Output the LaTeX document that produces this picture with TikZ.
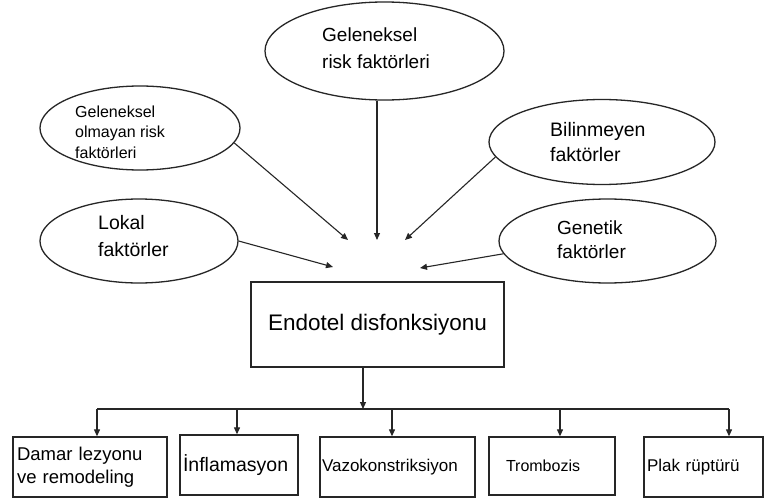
\documentclass[tikz,border=0pt]{standalone}
\usepackage{fontspec}
\setmainfont{Liberation Sans}
\usetikzlibrary{shapes.geometric,arrows.meta}
\newcommand{\fsz}[2]{\fontsize{#1}{#2}\selectfont}
\begin{document}
\begin{tikzpicture}[x=1pt,y=-1pt,
  ln/.style={line width=1.3pt,draw=black!85},
  ell/.style={ln,shape=ellipse,inner sep=0pt},
  arr/.style={line width=1.1pt,draw=black!85,-{Triangle[length=7pt,width=6pt]}},
  lbl/.style={inner sep=0pt,anchor=west,align=left},
  bx/.style={ln,shape=rectangle,align=left}]
\useasboundingbox (0,0) rectangle (764,498);
\fill[white] (0,0) rectangle (764,498);
% ellipses
\node[ell,minimum width=239pt,minimum height=98pt] (e1) at (384.5,51) {};
\node[ell,minimum width=200pt,minimum height=84pt] (e2) at (140,128) {};
\node[ell,minimum width=198pt,minimum height=84pt] (e3) at (139,241) {};
\node[ell,minimum width=226pt,minimum height=85pt] (e4) at (602,142) {};
\node[ell,minimum width=217pt,minimum height=84pt] (e5) at (607.5,241) {};
% ellipse texts
\node[lbl,font=\fsz{19}{27}] (l1) at (322,48.5) {Geleneksel\\risk faktörleri};
\node[lbl,font=\fsz{16}{20.5}] (l2) at (75,132) {Geleneksel\\olmayan risk\\faktörleri};
\node[lbl,font=\fsz{19.5}{27}] (l3) at (98,236) {Lokal\\faktörler};
\node[lbl,font=\fsz{19.5}{25}] (l4) at (550,142) {Bilinmeyen\\faktörler};
\node[lbl,font=\fsz{19}{24}] (l5) at (557,240) {Genetik\\faktörler};
% central box
\node[bx,minimum width=253pt,minimum height=85pt,align=center,font=\fsz{22.5}{27}] (c) at (377.5,324.5) {Endotel disfonksiyonu};
% arrow targets
\coordinate (t1) at (377,240);
\coordinate (t2) at (348,240);
\coordinate (t3) at (333,267);
\coordinate (t4) at (405,240);
\coordinate (t5) at (420,268);
\draw[arr] (t1 |- e1.south) -- (t1);
\draw[arr] (e2.-9) -- (t2);
\draw[arr] (e3.east) -- (t3);
\draw[arr] (e4.188) -- (t4);
\draw[arr] (e5.187) -- (t5);
% bottom boxes
\node[bx,minimum width=154pt,minimum height=60pt,text width=146pt,inner xsep=4pt,font=\fsz{18.5}{23}] (b1) at (90,467) {Damar lezyonu\\ve remodeling};
\node[bx,minimum width=118pt,minimum height=60pt,text width=112pt,inner xsep=3pt,font=\fsz{19.5}{24}] (b2) at (239,465) {İnflamasyon};
\node[bx,minimum width=155pt,minimum height=60pt,text width=151pt,inner xsep=2pt,font=\fsz{17}{20}] (b3) at (397.5,467) {Vazokonstriksiyon};
\node[bx,minimum width=126pt,minimum height=58pt,text width=92pt,inner xsep=17pt,font=\fsz{16}{20}] (b4) at (552,466) {Trombozis};
\node[bx,minimum width=119pt,minimum height=60pt,text width=113pt,inner xsep=3pt,font=\fsz{17}{20}] (b5) at (703.5,467) {Plak rüptürü};
% distribution
\coordinate (cd) at (363,0);
\coordinate (bl) at (97,409);
\coordinate (br) at (729,409);
\draw[arr] (cd |- c.south) -- (cd |- bl);
\draw[line width=1.1pt,draw=black!85] (bl) -- (br);
\coordinate (x1) at (97,409);
\coordinate (x2) at (237,409);
\coordinate (x3) at (392,409);
\coordinate (x4) at (560,409);
\coordinate (x5) at (729,409);
\draw[arr] (x1) -- (x1 |- b1.north);
\draw[arr] (x2) -- (x2 |- b2.north);
\draw[arr] (x3) -- (x3 |- b3.north);
\draw[arr] (x4) -- (x4 |- b4.north);
\draw[arr] (x5) -- (x5 |- b5.north);
\end{tikzpicture}
\end{document}
